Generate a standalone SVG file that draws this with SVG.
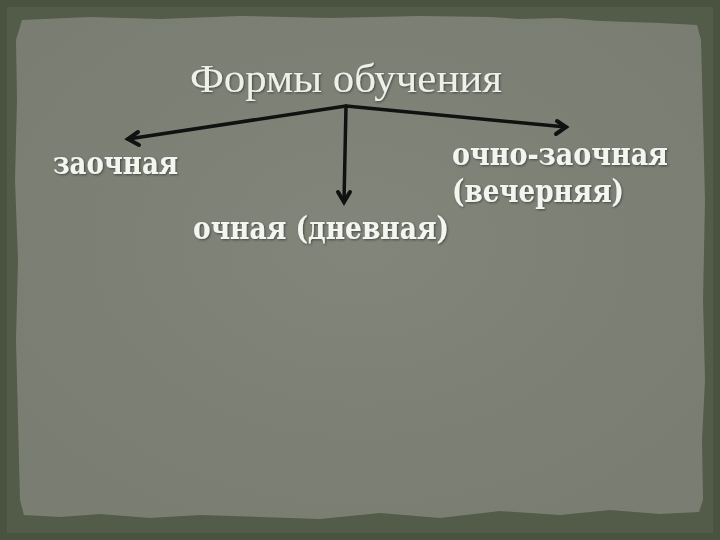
<svg xmlns="http://www.w3.org/2000/svg" width="720" height="540" viewBox="0 0 720 540">
<defs>
<style>
.title{font-family:"Liberation Serif","DejaVu Serif",serif;font-size:40px;fill:#f0f0ea}
.lbl{font-family:"DejaVu Serif","Liberation Serif",serif;font-weight:bold;font-size:31px;fill:#f4f4f0}
.conn{stroke:#111;stroke-width:3.5;fill:none;stroke-linecap:round;stroke-linejoin:round}
.head{fill:none;stroke:#111;stroke-width:4;stroke-linecap:round;stroke-linejoin:miter}
</style>
<filter id="sh" x="-5%" y="-20%" width="110%" height="140%">
<feDropShadow dx="1" dy="1" stdDeviation="0.8" flood-color="#2a2e26" flood-opacity="0.7"/>
</filter>
<radialGradient id="pg" cx="50%" cy="45%" r="60%">
<stop offset="0" stop-color="#82867a"/>
<stop offset="1" stop-color="#7a7e72"/>
</radialGradient>
</defs>
<rect width="720" height="540" fill="#535b49"/>
<rect x="0" y="0" width="720" height="540" fill="none" stroke="#4a5240" stroke-width="14"/>
<g id="panel">
<path d="M22 20 L90 17 L160 19 L240 16 L330 18 L420 16 L490 17 L520 19 L560 18 L600 21 L660 23 L697 25 L701 40 L703 120 L705 200 L703 300 L705 380 L702 440 L703 500 L699 512 L660 514 L610 510 L560 515 L500 511 L440 518 L380 513 L320 519 L260 517 L200 515 L150 518 L100 514 L60 517 L24 515 L20 500 L18 420 L16 340 L18 260 L15 180 L17 100 L16 40 Z" fill="url(#pg)"/>
</g>
<g id="title" filter="url(#sh)">
<text class="title" x="190" y="92" textLength="312" lengthAdjust="spacingAndGlyphs">Формы обучения</text>
</g>
<g id="connectors">
<polyline class="conn" points="128,139 346,106 566,127"/>
<line class="conn" x1="346" y1="106" x2="344" y2="201"/>
<polyline class="head" points="138,132 128,139 139,145"/>
<polyline class="head" points="557,121 566,127 556,134"/>
<polyline class="head" points="338,192 344,202 350,192"/>
</g>
<g id="node-zaochnaya" filter="url(#sh)">
<text class="lbl" x="53" y="174" textLength="125" lengthAdjust="spacingAndGlyphs">заочная</text>
</g>
<g id="node-ochnaya" filter="url(#sh)">
<text class="lbl" x="193" y="239" textLength="256" lengthAdjust="spacingAndGlyphs">очная (дневная)</text>
</g>
<g id="node-ochno-zaochnaya" filter="url(#sh)">
<text class="lbl" x="452" y="165" textLength="216" lengthAdjust="spacingAndGlyphs">очно-заочная</text>
<text class="lbl" x="452" y="202" textLength="172" lengthAdjust="spacingAndGlyphs">(вечерняя)</text>
</g>
</svg>
